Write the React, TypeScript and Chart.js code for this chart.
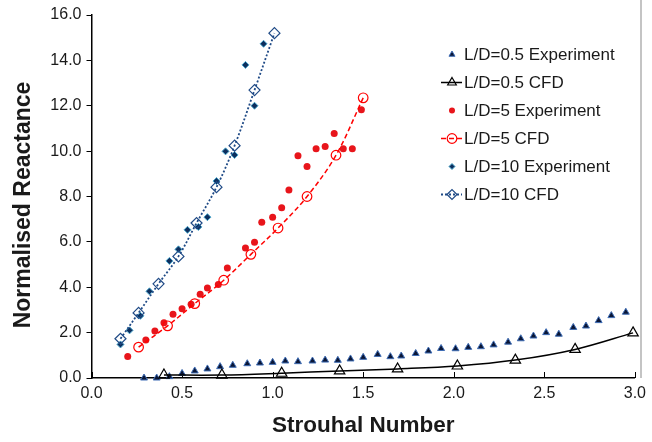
import React, { useEffect, useRef } from "react";
import { Chart, registerables } from "chart.js";
import { drawPoint } from "chart.js/helpers";

Chart.register(...registerables);

const xTickLabels = ["0.0", "0.5", "1.0", "1.5", "2.0", "2.5", "3.0"];
const yTickLabels = ["0.0", "2.0", "4.0", "6.0", "8.0", "10.0", "12.0", "14.0", "16.0"];
const xTitle = "Strouhal Number";
const yTitle = "Normalised Reactance";

const ld05ExpX = [0.29, 0.36, 0.43, 0.50, 0.57, 0.64, 0.71, 0.78, 0.86, 0.93, 1.00, 1.07, 1.14, 1.22, 1.29, 1.36, 1.43, 1.50, 1.58, 1.65, 1.71, 1.79, 1.86, 1.93, 2.01, 2.08, 2.15, 2.22, 2.30, 2.37, 2.44, 2.51, 2.58, 2.66, 2.73, 2.80, 2.87, 2.95];
const ld05ExpY = [0.0, 0.0, 0.06, 0.2, 0.31, 0.4, 0.5, 0.56, 0.63, 0.66, 0.69, 0.75, 0.72, 0.75, 0.79, 0.78, 0.84, 0.91, 1.04, 0.94, 0.97, 1.08, 1.19, 1.30, 1.29, 1.35, 1.38, 1.46, 1.58, 1.73, 1.85, 2.0, 1.93, 2.23, 2.29, 2.53, 2.75, 2.9];

const ld05CfdX = [0.40, 0.72, 1.05, 1.37, 1.69, 2.02, 2.34, 2.67, 2.99];
const ld05CfdY = [0.13, 0.13, 0.21, 0.31, 0.40, 0.53, 0.79, 1.26, 1.99];

const ld5ExpX = [0.20, 0.30, 0.35, 0.40, 0.45, 0.50, 0.55, 0.60, 0.64, 0.70, 0.75, 0.85, 0.90, 0.94, 1.00, 1.05, 1.09, 1.14, 1.19, 1.24, 1.29, 1.34, 1.39, 1.44, 1.49];
const ld5ExpY = [0.95, 1.67, 2.07, 2.43, 2.81, 3.05, 3.25, 3.69, 3.97, 4.12, 4.85, 5.73, 5.98, 6.86, 7.08, 7.5, 8.29, 9.8, 9.32, 10.1, 10.2, 10.78, 10.11, 10.11, 11.82];

const ld5CfdX = [0.26, 0.42, 0.57, 0.73, 0.88, 1.03, 1.19, 1.35, 1.50];
const ld5CfdY = [1.36, 2.3, 3.28, 4.31, 5.45, 6.61, 8.0, 9.82, 12.35];

const ld10ExpX = [0.16, 0.21, 0.27, 0.32, 0.43, 0.48, 0.53, 0.59, 0.64, 0.69, 0.74, 0.79, 0.85, 0.90, 0.95];
const ld10ExpY = [1.48, 2.1, 2.74, 3.82, 5.16, 5.67, 6.53, 6.66, 7.09, 8.68, 9.99, 9.83, 13.8, 12.0, 14.73];

const ld10CfdX = [0.16, 0.26, 0.37, 0.48, 0.58, 0.69, 0.79, 0.90, 1.01];
const ld10CfdY = [1.73, 2.87, 4.15, 5.36, 6.83, 8.41, 10.24, 12.69, 15.2];

const seriesNames = [
  "L/D=0.5 Experiment",
  "L/D=0.5 CFD",
  "L/D=5 Experiment",
  "L/D=5 CFD",
  "L/D=10 Experiment",
  "L/D=10 CFD",
];

const FONT = "'Liberation Sans', Arial, sans-serif";

const pts = (xs: number[], ys: number[]) => xs.map((x, i) => ({ x, y: ys[i] }));

const legendPlugin = {
  id: "customLegend",
  afterDraw(chart: any) {
    const ctx = chart.ctx;
    const rowY0 = 54.5;
    const step = 28;
    const markX = 452;
    const textX = 464;
    ctx.save();
    chart.data.datasets.forEach((ds: any, i: number) => {
      const y = rowY0 + i * step;
      if (ds.showLine) {
        ctx.beginPath();
        ctx.strokeStyle = ds.borderColor;
        ctx.lineWidth = ds.borderWidth;
        ctx.setLineDash(ds.borderDash || []);
        ctx.moveTo(441, y);
        ctx.lineTo(462, y);
        ctx.stroke();
        ctx.setLineDash([]);
      }
      ctx.fillStyle = ds.pointBackgroundColor;
      ctx.strokeStyle = ds.pointBorderColor;
      ctx.lineWidth = ds.pointBorderWidth;
      drawPoint(ctx, {
        pointStyle: ds.pointStyle,
        rotation: 0,
        radius: ds.legendRadius,
        borderWidth: ds.pointBorderWidth,
      } as any, markX, y);
      ctx.fillStyle = "#1a1a1a";
      ctx.font = `17px ${FONT}`;
      ctx.textBaseline = "middle";
      ctx.textAlign = "left";
      ctx.fillText(ds.label, textX, y + 1);
    });
    // y-axis title, placed like the reference (slightly below chart-area centre)
    ctx.translate(24, 205);
    ctx.rotate(-Math.PI / 2);
    ctx.fillStyle = "#1a1a1a";
    ctx.font = `bold 23px ${FONT}`;
    ctx.textAlign = "center";
    ctx.textBaseline = "middle";
    ctx.fillText(yTitle, 0, 0);
    ctx.restore();
  },
};

const framePlugin = {
  id: "frameExtras",
  beforeDatasetsDraw(chart: any) {
    const ctx = chart.ctx;
    const area = chart.chartArea;
    const xs = chart.scales.x;
    ctx.save();
    ctx.strokeStyle = "#000";
    ctx.lineWidth = 1;
    xs.ticks.forEach((t: any) => {
      const px = Math.round(xs.getPixelForValue(t.value)) + 0.5;
      ctx.beginPath();
      ctx.moveTo(px, area.bottom);
      ctx.lineTo(px, area.bottom - 6);
      ctx.stroke();
    });
    ctx.strokeStyle = "#c4c4c4";
    ctx.lineWidth = 2;
    ctx.beginPath();
    ctx.moveTo(641, 0);
    ctx.lineTo(641, area.bottom);
    ctx.stroke();
    ctx.restore();
  },
};

export default function App() {
  const canvasRef = useRef<HTMLCanvasElement | null>(null);

  useEffect(() => {
    if (!canvasRef.current) return;
    const chart = new Chart(canvasRef.current, {
      type: "scatter",
      data: {
        datasets: [
          {
            label: seriesNames[0],
            data: pts(ld05ExpX, ld05ExpY),
            showLine: false,
            pointStyle: "triangle",
            pointRadius: 4,
            legendRadius: 3.5,
            pointBackgroundColor: "#0a1636",
            pointBorderColor: "#3f6db5",
            pointBorderWidth: 1,
            borderColor: "#0a1636",
            clip: false,
            order: 6,
          } as any,
          {
            label: seriesNames[1],
            data: pts(ld05CfdX, ld05CfdY),
            showLine: true,
            tension: 0.35,
            borderColor: "#000000",
            borderWidth: 1.5,
            borderDash: [],
            pointStyle: "triangle",
            pointRadius: 6,
            legendRadius: 5,
            pointBackgroundColor: "rgba(255,255,255,0)",
            pointBorderColor: "#000000",
            pointBorderWidth: 1.2,
            clip: false,
            order: 5,
          } as any,
          {
            label: seriesNames[2],
            data: pts(ld5ExpX, ld5ExpY),
            showLine: false,
            pointStyle: "circle",
            pointRadius: 3.5,
            legendRadius: 3,
            pointBackgroundColor: "#e8151b",
            pointBorderColor: "#e8151b",
            pointBorderWidth: 0,
            borderColor: "#e8151b",
            clip: false,
            order: 4,
          } as any,
          {
            label: seriesNames[3],
            data: pts(ld5CfdX, ld5CfdY),
            showLine: true,
            tension: 0.35,
            borderColor: "#ff0000",
            borderWidth: 1.5,
            borderDash: [5, 3],
            pointStyle: "circle",
            pointRadius: 4.8,
            legendRadius: 4.8,
            pointBackgroundColor: "rgba(255,255,255,0)",
            pointBorderColor: "#ff0000",
            pointBorderWidth: 1.2,
            clip: false,
            order: 3,
          } as any,
          {
            label: seriesNames[4],
            data: pts(ld10ExpX, ld10ExpY),
            showLine: false,
            pointStyle: "rectRot",
            pointRadius: 3.5,
            legendRadius: 3,
            pointBackgroundColor: "#0d2f5e",
            pointBorderColor: "#4aa6cc",
            pointBorderWidth: 1,
            borderColor: "#0d2f5e",
            clip: false,
            order: 2,
          } as any,
          {
            label: seriesNames[5],
            data: pts(ld10CfdX, ld10CfdY),
            showLine: true,
            tension: 0.35,
            borderColor: "#1f4a86",
            borderWidth: 1.8,
            borderDash: [2, 2],
            pointStyle: "rectRot",
            pointRadius: 5.5,
            legendRadius: 5,
            pointBackgroundColor: "rgba(255,255,255,0)",
            pointBorderColor: "#1f4a86",
            pointBorderWidth: 1.2,
            clip: false,
            order: 1,
          } as any,
        ],
      },
      options: {
        animation: false,
        responsive: false,
        devicePixelRatio: 1,
        layout: { padding: { top: 15, right: 13, left: 0, bottom: 0 }, autoPadding: false } as any,
        plugins: {
          legend: { display: false },
          tooltip: { enabled: false },
        },
        scales: {
          x: {
            type: "linear",
            min: 0,
            max: 3,
            afterFit: (scale: any) => {
              scale.height = 64;
            },
            afterBuildTicks: (scale: any) => {
              scale.ticks = xTickLabels.map((l) => ({ value: parseFloat(l) }));
            },
            ticks: {
              padding: 6,
              color: "#1a1a1a",
              font: { family: FONT, size: 16 },
              maxRotation: 0,
              callback: (v: any) => xTickLabels.find((l) => parseFloat(l) === Number(v)) ?? "",
            },
            grid: { display: false, drawTicks: false },
            border: { display: true, color: "#000", width: 1.5 },
            title: {
              display: true,
              text: xTitle,
              color: "#1a1a1a",
              font: { family: FONT, size: 22.5, weight: "bold" },
              padding: { top: 0, bottom: 3 },
            },
          },
          y: {
            type: "linear",
            min: 0,
            max: 16,
            afterFit: (scale: any) => {
              scale.width = 91.5;
            },
            afterBuildTicks: (scale: any) => {
              scale.ticks = yTickLabels.map((l) => ({ value: parseFloat(l) }));
            },
            ticks: {
              padding: 5,
              color: "#1a1a1a",
              font: { family: FONT, size: 16 },
              callback: (v: any) => yTickLabels.find((l) => parseFloat(l) === Number(v)) ?? "",
            },
            grid: {
              display: true,
              drawOnChartArea: false,
              drawTicks: true,
              tickLength: 5,
              color: "#000",
              lineWidth: 1,
            },
            border: { display: true, color: "#000", width: 1.5 },
            title: { display: false },
          },
        },
      } as any,
      plugins: [framePlugin, legendPlugin],
    });
    return () => chart.destroy();
  }, []);

  return (
    <div style={{ position: "fixed", left: 0, top: 0, width: 652, height: 442, background: "#fff" }}>
      <canvas ref={canvasRef} width={652} height={442} style={{ display: "block" }} />
    </div>
  );
}
